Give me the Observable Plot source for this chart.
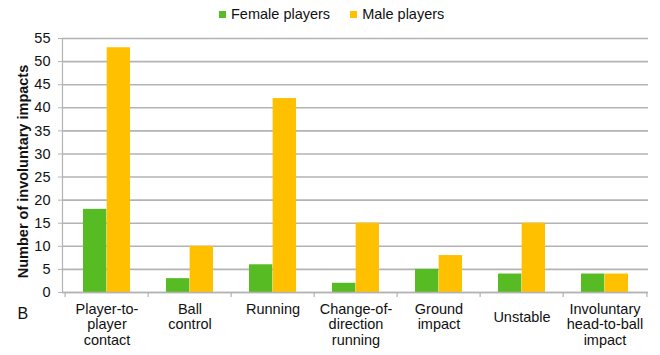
<!DOCTYPE html>
<html>
<head>
<meta charset="utf-8">
<script src="https://cdn.jsdelivr.net/npm/d3@7"></script>
<script src="https://cdn.jsdelivr.net/npm/@observablehq/plot@0.6"></script>
<style>
  html, body { margin: 0; padding: 0; background: #fff; }
  #wrap { position: relative; width: 660px; height: 355px; font-family: "Liberation Sans", Arial, sans-serif; }
  #legend { position: absolute; top: 6px; left: 219px; display: flex; align-items: center; font-size: 14.5px; color: #111; }
  #legend .item { display: flex; align-items: center; margin-right: 20px; }
  #legend .sw { width: 7px; height: 7px; margin-right: 5px; }
</style>
</head>
<body>
<div id="wrap">
  <div id="legend"></div>
</div>
<script>
const categories = ["Player-to-player contact", "Ball control", "Running", "Change-of-direction running", "Ground impact", "Unstable", "Involuntary head-to-ball impact"];
const tickLabels = ["Player-to-\nplayer\ncontact", "Ball\ncontrol", "Running", "Change-of-\ndirection\nrunning", "Ground\nimpact", "Unstable", "Involuntary\nhead-to-ball\nimpact"];
const series = ["Female players", "Male players"];
const femaleValues = [18, 3, 6, 2, 5, 4, 4];
const maleValues = [53, 10, 42, 15, 8, 15, 4];
const colors = ["#57bb24", "#ffc000"];
const yTicks = d3.range(0, 56, 5);

const data = [];
categories.forEach((c, i) => {
  data.push({category: c, series: series[0], value: femaleValues[i]});
  data.push({category: c, series: series[1], value: maleValues[i]});
});
const labels = categories.map((c, i) => ({category: c, label: tickLabels[i]}));

const width = 660, height = 355;
const marginLeft = 62, marginRight = 12, marginTop = 38, marginBottom = 63;
const step = (width - marginLeft - marginRight) / categories.length;
const bandW = step * (1 - 0.435);
const barW = bandW / 2;
const font = "Liberation Sans, Arial, sans-serif";
const gridColor = "#b3b3b3";

const chart = Plot.plot({
  width, height, marginLeft, marginRight, marginTop, marginBottom,
  style: {fontFamily: font, fontSize: "14.5px", color: "#111", background: "transparent"},
  x: {domain: categories, paddingInner: 0.435, paddingOuter: 0.2175, axis: null},
  y: {domain: [0, 55], axis: null},
  marks: [
    Plot.gridY(yTicks, {stroke: gridColor, strokeOpacity: 1, strokeWidth: 1.6}),
    Plot.frame({anchor: "left", stroke: gridColor, strokeWidth: 1.2}),
    Plot.axisY({ticks: yTicks, tickSize: 4, tickPadding: 8, stroke: gridColor, fontSize: 14.5, label: null, tickFormat: d => d}),
    Plot.barY(data.filter(d => d.series === series[0]), {x: "category", y: "value", fill: colors[0], insetLeft: 0, insetRight: barW}),
    Plot.barY(data.filter(d => d.series === series[1]), {x: "category", y: "value", fill: colors[1], insetLeft: barW, insetRight: 0}),
    Plot.ruleY([0], {stroke: gridColor, strokeWidth: 1.6}),
    Plot.ruleX(categories, {x: d => d, y1: 0, y2: 0, dx: -step / 2, insetBottom: -5, stroke: gridColor, strokeWidth: 1.2}),
    Plot.ruleX(categories.slice(-1), {x: d => d, y1: 0, y2: 0, dx: step / 2, insetBottom: -5, stroke: gridColor, strokeWidth: 1.2}),
    Plot.text(labels.filter(d => d.category !== "Unstable"), {x: "category", text: "label", frameAnchor: "bottom", lineAnchor: "top", dy: 10, lineHeight: 1.07, fontSize: 14.5, fill: "#111"}),
    Plot.text(labels.filter(d => d.category === "Unstable"), {x: "category", text: "label", frameAnchor: "bottom", lineAnchor: "top", dy: 18, lineHeight: 1.07, fontSize: 14.5, fill: "#111"}),
    Plot.text(["Number of involuntary impacts"], {frameAnchor: "left", textAnchor: "middle", rotate: -90, dx: -39, dy: 6, fontWeight: "bold", fontSize: 14.5, fill: "#111"}),
    Plot.text(["B"], {frameAnchor: "bottom-left", textAnchor: "start", dx: -45, dy: 26, fontSize: 16, fill: "#111"})
  ]
});
document.getElementById("wrap").prepend(chart);

const legend = document.getElementById("legend");
series.forEach((s, i) => {
  const item = document.createElement("div");
  item.className = "item";
  const sw = document.createElement("span");
  sw.className = "sw";
  sw.style.background = colors[i];
  const t = document.createElement("span");
  t.textContent = s;
  item.append(sw, t);
  legend.append(item);
});
</script>
</body>
</html>
